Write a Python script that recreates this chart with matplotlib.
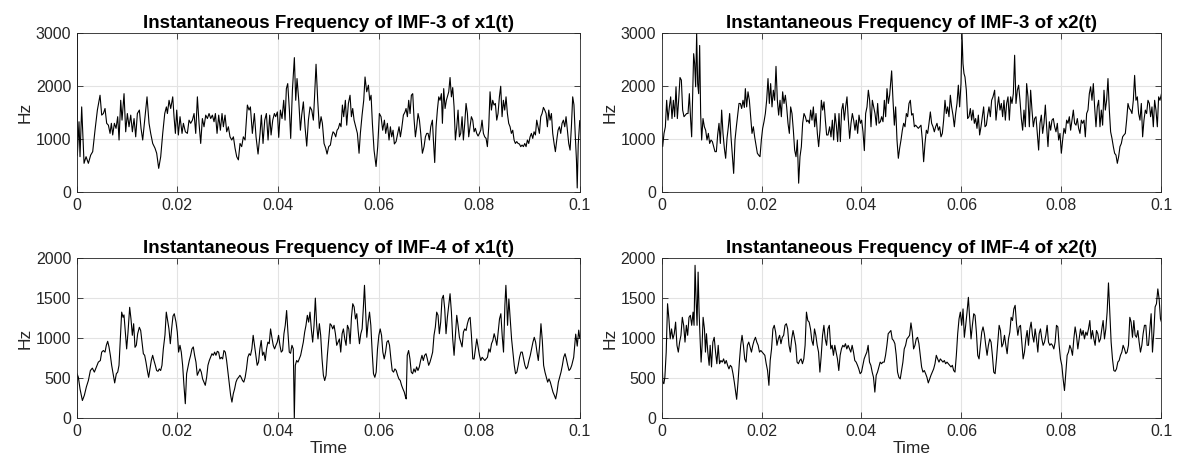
import numpy as np
import matplotlib
matplotlib.use("Agg")
import matplotlib.pyplot as plt

plt.rcParams['font.family'] = ['Liberation Sans', 'DejaVu Sans']

# IMF-3 of x1(t): time in ms, instantaneous frequency in Hz
imf3_x1_t = [0, 0.05, 0.13, 0.46, 0.66, 0.99, 1.46, 1.86, 2.32, 2.78, 3.18, 3.64, 4.11, 4.64, 4.97, 5.30, 5.63,
             5.96, 6.30, 6.63, 6.89, 7.16, 7.49, 7.82, 8.15, 8.42, 8.75, 9.01, 9.41, 9.74, 10.07, 10.40, 10.74,
             11.07, 11.40, 11.73, 12.06, 12.46, 12.79, 13.12, 13.52, 13.98, 14.38, 14.71, 15.11, 15.57, 15.90,
             16.30, 16.70, 17.10, 17.50, 17.83, 18.03, 18.36, 18.69, 19.09, 19.35, 19.62, 19.88, 20.21, 20.54,
             20.94, 21.21, 21.60, 22.00, 22.33, 22.66, 23.00, 23.33, 23.66, 23.99, 24.32, 24.65, 24.98, 25.31,
             25.65, 25.98, 26.31, 26.64, 26.97, 27.30, 27.57, 27.90, 28.23, 28.56, 28.89, 29.16, 29.49, 29.82,
             30.15, 30.48, 30.82, 31.15, 31.48, 31.81, 32.14, 32.47, 32.80, 33.13, 33.47, 33.93, 34.26, 34.53,
             34.92, 35.32, 35.65, 36.05, 36.45, 36.71, 37.04, 37.38, 37.71, 38.04, 38.37, 38.64, 38.97, 39.30,
             39.56, 39.89, 40.16, 40.49, 40.82, 41.15, 41.42, 41.68, 41.95, 42.28, 42.54, 42.88, 43.27, 43.54,
             43.80, 44.14, 44.47, 44.73, 45.06, 45.39, 45.73, 46.06, 46.39, 46.72, 47.05, 47.25, 47.58, 47.91,
             48.24, 48.58, 48.84, 49.17, 49.50, 49.77, 50.10, 50.43, 50.70, 50.96, 51.23, 51.49, 51.76, 52.02,
             52.29, 52.55, 52.82, 53.08, 53.41, 53.68, 54.01, 54.34, 54.61, 54.87, 55.14, 55.47, 55.80, 56.13,
             56.39, 56.73, 57.06, 57.32, 57.65, 57.99, 58.25, 58.52, 58.78, 59.11, 59.51, 59.84, 60.17, 60.50,
             60.83, 61.17, 61.43, 61.76, 62.09, 62.36, 62.62, 62.89, 63.15, 63.49, 63.82, 64.08, 64.35, 64.61,
             64.94, 65.27, 65.47, 65.74, 66.00, 66.27, 66.53, 66.80, 67.06, 67.33, 67.59, 67.86, 68.13, 68.39,
             68.72, 69.05, 69.32, 69.58, 69.85, 70.11, 70.38, 70.71, 70.91, 71.17, 71.44, 71.70, 71.97, 72.23,
             72.50, 72.70, 72.96, 73.23, 73.49, 73.69, 73.96, 74.22, 74.49, 74.75, 75.02, 75.28, 75.55, 75.81,
             76.08, 76.34, 76.61, 76.87, 77.14, 77.40, 77.67, 77.93, 78.20, 78.46, 78.73, 79.00, 79.26, 79.52,
             79.79, 80.05, 80.32, 80.58, 80.85, 81.11, 81.38, 81.64, 81.91, 82.17, 82.44, 82.70, 82.97, 83.23,
             83.50, 83.76, 84.03, 84.29, 84.56, 84.82, 85.09, 85.35, 85.62, 85.88, 86.15, 86.41, 86.68, 86.95,
             87.21, 87.48, 87.74, 88.01, 88.27, 88.54, 88.80, 89.07, 89.33, 89.60, 89.86, 90.13, 90.39, 90.66,
             90.92, 91.19, 91.45, 91.72, 91.98, 92.25, 92.51, 92.78, 93.04, 93.31, 93.57, 93.84, 94.10, 94.37,
             94.63, 94.90, 95.16, 95.43, 95.69, 95.96, 96.22, 96.49, 96.75, 97.02, 97.28, 97.55, 97.81, 98.08,
             98.35, 98.60, 98.85, 99.10, 99.35, 99.50, 99.70, 100.0]
imf3_x1_hz = [0, 3000, 700, 1330, 670, 1610, 545, 670, 545, 700, 765, 1170, 1550, 1830, 1455, 1485, 1580,
              1300, 1265, 1110, 1300, 1080, 1300, 1205, 1425, 985, 1735, 1360, 1860, 1140, 1485, 1235, 1455,
              1140, 1390, 1045, 1485, 1550, 1205, 985, 1360, 1800, 1300, 1110, 920, 830, 735,
              450, 670, 1110, 1485, 1610, 1485, 1735, 1580, 1800, 1425, 1110, 1550, 1080, 1425,
              1110, 1300, 1140, 1110, 1360, 1300, 1360, 1485, 1110, 1800, 1300, 920, 1390, 1235,
              1455, 1390, 1485, 1390, 1455, 1330, 1485, 1110, 1455, 1170, 1485, 1235, 1455, 1140,
              1235, 1045, 985, 1045, 830, 670, 610, 920, 860, 1045, 985, 1645, 1550, 1610,
              1110, 1485, 1045, 720, 1110, 1455, 920, 1360, 1485, 985, 1455, 1080, 1360, 1485,
              1425, 1515, 1035, 1550, 1390, 1735, 1360, 1955, 2050, 1550, 1015, 1925, 2540, 1735,
              2145, 1735, 1170, 1455, 1705, 1235, 870, 1360, 1610, 1550, 1360, 1735, 2415, 1735,
              1205, 1425, 1300, 920, 830, 720, 860, 890, 1045, 1140, 1110, 1045, 1170, 1205,
              1300, 1235, 1645, 1425, 1735, 1265, 1675, 1830, 1425, 1580, 1360, 1235, 1110, 735,
              1110, 1455, 1735, 2175, 1895, 2020, 1735, 1830, 1300, 795, 485, 860, 1485, 1425,
              1170, 1360, 1110, 1300, 985, 1235, 1045, 1170, 910, 955, 1110, 1235, 1045, 1205,
              1455, 1515, 1580, 1425, 1735, 1485, 1830, 1860, 1390, 1045, 1235, 1485, 1360, 1110,
              735, 860, 1045, 1110, 1110, 985, 1235, 1360, 985, 560, 1235, 1550, 1800, 1735,
              1860, 1300, 1955, 1580, 1735, 1800, 1895, 2165, 1800, 1975, 1610, 985, 1235, 1550,
              1045, 1110, 1425, 985, 1300, 1675, 1485, 1045, 1235, 1425, 1360, 1140, 1205, 1110,
              1060, 1110, 1170, 1360, 1110, 1045, 1015, 860, 1235, 1895, 1550, 1735, 1645, 1675,
              1360, 1485, 1800, 2000, 1425, 1735, 1550, 1800, 1485, 1300, 1235, 1110, 1170, 985,
              920, 955, 920, 910, 860, 890, 860, 920, 860, 985, 920, 1045, 1110, 1015,
              1140, 1080, 1360, 1235, 1110, 1425, 1485, 1600, 1550, 1485, 1235, 1550, 1360, 1485,
              1110, 920, 765, 985, 1170, 1235, 1110, 1300, 1360, 1235, 1425, 1170, 920, 795,
              1250, 1800, 1650, 1100, 600, 80, 900, 1350]

# IMF-3 of x2(t)
imf3_x2_t = [0.00, 0.23, 0.50, 0.77, 1.03, 1.30, 1.57, 1.83, 2.10, 2.37, 2.63, 2.90, 3.17, 3.43, 3.70, 3.97,
             4.23, 4.50, 4.77, 5.03, 5.30, 5.57, 5.83, 6.03, 6.23, 6.43, 6.63, 6.83, 7.03, 7.23, 7.43, 7.63,
             7.83, 8.03, 8.30, 8.57, 8.83, 9.10, 9.37, 9.63, 9.90, 10.17, 10.43, 10.70, 10.97, 11.23, 11.50,
             11.77, 12.03, 12.30, 12.57, 12.83, 13.10, 13.37, 13.63, 13.90, 14.17, 14.43, 14.70, 14.97, 15.23,
             15.50, 15.77, 16.03, 16.30, 16.57, 16.77, 17.03, 17.30, 17.57, 17.83, 18.10, 18.37, 18.63, 18.90,
             19.17, 19.43, 19.70, 19.97, 20.23, 20.50, 20.77, 21.03, 21.30, 21.57, 21.83, 22.10, 22.37, 22.63,
             22.90, 23.17, 23.43, 23.70, 23.97, 24.23, 24.50, 24.77, 25.03, 25.30, 25.57, 25.83, 26.10, 26.37,
             26.63, 26.90, 27.17, 27.43, 27.70, 27.97, 28.23, 28.50, 28.77, 29.03, 29.30, 29.57, 29.83, 30.10,
             30.37, 30.63, 30.90, 31.17, 31.43, 31.70, 31.97, 32.23, 32.50, 32.77, 33.03, 33.30, 33.63, 33.90,
             34.17, 34.43, 34.70, 34.97, 35.23, 35.50, 35.77, 36.03, 36.30, 36.57, 36.83, 37.10, 37.37, 37.63,
             37.90, 38.17, 38.43, 38.70, 38.97, 39.23, 39.50, 39.77, 40.03, 40.30, 40.57, 40.83, 41.10, 41.37,
             41.63, 41.90, 42.17, 42.43, 42.70, 42.97, 43.23, 43.50, 43.77, 44.03, 44.30, 44.57, 44.83, 45.10,
             45.37, 45.63, 45.83, 46.03, 46.30, 46.57, 46.83, 47.10, 47.37, 47.63, 47.90, 48.17, 48.43, 48.70,
             48.97, 49.23, 49.50, 49.77, 50.03, 50.30, 50.57, 50.83, 51.10, 51.37, 51.63, 51.90, 52.17, 52.43,
             52.70, 52.97, 53.23, 53.50, 53.77, 54.03, 54.30, 54.57, 54.83, 55.10, 55.37, 55.63, 55.90, 56.17,
             56.43, 56.70, 56.97, 57.23, 57.50, 57.77, 58.03, 58.30, 58.57, 58.83, 59.10, 59.37, 59.63, 59.90,
             60.10, 60.30, 60.50, 60.70, 60.97, 61.23, 61.50, 61.77, 62.03, 62.30, 62.57, 62.83, 63.10, 63.37,
             63.63, 63.90, 64.17, 64.43, 64.70, 64.97, 65.23, 65.50, 65.77, 66.03, 66.30, 66.63, 66.90, 67.17,
             67.43, 67.70, 67.97, 68.23, 68.50, 68.77, 69.03, 69.30, 69.57, 69.83, 70.10, 70.37, 70.63, 70.90,
             71.17, 71.43, 71.70, 71.97, 72.23, 72.50, 72.77, 73.03, 73.30, 73.57, 73.83, 74.10, 74.37, 74.63,
             74.90, 75.17, 75.43, 75.70, 75.97, 76.23, 76.50, 76.77, 77.03, 77.30, 77.57, 77.83, 78.10, 78.37,
             78.63, 78.90, 79.17, 79.43, 79.70, 79.97, 80.23, 80.50, 80.77, 81.03, 81.30, 81.57, 81.83, 82.10,
             82.37, 82.63, 82.90, 83.17, 83.43, 83.70, 83.97, 84.23, 84.50, 84.77, 85.03, 85.30, 85.57, 85.83,
             86.10, 86.37, 86.63, 86.90, 87.17, 87.43, 87.70, 87.97, 88.23, 88.50, 88.77, 89.03, 89.30, 89.57,
             89.83, 90.10, 90.37, 90.63, 90.90, 91.17, 91.43, 91.70, 91.97, 92.23, 92.50, 92.77, 93.03, 93.30,
             93.57, 93.83, 94.10, 94.37, 94.63, 94.90, 95.17, 95.43, 95.70, 95.97, 96.23, 96.50, 96.77, 97.03,
             97.30, 97.57, 97.83, 98.10, 98.37, 98.63, 98.90, 99.17, 99.43, 99.70, 100.0]
imf3_x2_hz = [1045, 860, 1110, 1235, 1735, 1360, 1610, 1800, 1390, 1735, 1425, 1990, 1390, 1735, 2165, 2115,
              1550, 1425, 1455, 1485, 1485, 1860, 1360, 1045, 1860, 2615, 2425, 1990, 3000, 2050, 1860, 2770,
              1485, 985, 1390, 1235, 1170, 985, 1110, 920, 985, 955, 860, 765, 765, 1080, 1300,
              920, 1550, 1110, 830, 640, 1015, 1235, 1485, 1045, 700, 355, 985, 1235, 1455,
              1675, 1675, 1580, 1735, 1600, 1955, 1610, 1895, 1735, 1425, 1110, 1235, 1045, 890,
              735, 700, 670, 985, 1205, 1330, 1485, 1735, 2145, 1675, 2050, 1610, 1925, 1735,
              2375, 1735, 1455, 1735, 1425, 1895, 1675, 1830, 1610, 1300, 1110, 1610, 1485, 1170,
              795, 670, 985, 170, 670, 860, 1300, 1485, 1425, 1330, 1360, 1300, 1550, 1360,
              1610, 1235, 1485, 1110, 860, 1170, 1735, 1550, 1705, 1360, 1080, 1080, 1235, 1045,
              1360, 985, 1485, 1265, 955, 1485, 955, 1550, 1675, 1360, 1610, 1800, 1360, 1015,
              1300, 1485, 1360, 1170, 1360, 1110, 1455, 1300, 1360, 1140, 785, 1485, 1610, 1925,
              1735, 1235, 1735, 1610, 1485, 1265, 1675, 1300, 1330, 1425, 1330, 1735, 1425, 1955,
              1675, 1830, 2050, 2290, 1735, 1265, 1610, 985, 640, 830, 985, 1170, 1300, 1235,
              1485, 1425, 1675, 1735, 1455, 1485, 1235, 1265, 1235, 1205, 1235, 1265, 985, 575,
              920, 1170, 1110, 1300, 1515, 1300, 1235, 1140, 1235, 1300, 1170, 1235, 1045, 1110,
              1360, 1735, 1485, 1610, 1425, 1830, 1610, 1455, 1235, 1485, 1675, 2020, 1610, 2050,
              3000, 2425, 2240, 2175, 1925, 1390, 1425, 1580, 1360, 1550, 1300, 1390, 1205, 1455,
              1080, 1235, 1425, 1610, 1235, 1265, 1455, 1610, 1425, 1735, 1800, 1925, 1360, 1610,
              1800, 1550, 1675, 1425, 1735, 1360, 1675, 1800, 1360, 1800, 1675, 1860, 2585, 1675,
              1925, 2020, 1735, 1390, 1170, 1550, 1235, 2050, 1800, 1235, 1925, 1550, 1235, 1390,
              1425, 1110, 795, 1300, 1455, 1110, 1300, 1645, 1235, 860, 1330, 1170, 1360, 1390,
              1235, 1140, 1300, 985, 1110, 735, 985, 1205, 1110, 1360, 1300, 1425, 1170, 1360,
              1550, 1300, 1265, 1390, 1205, 1110, 1360, 1300, 1360, 1045, 1485, 1550, 1860, 1990,
              1735, 2050, 1610, 1235, 1610, 1735, 1235, 1550, 1265, 1925, 1550, 1735, 2145, 1550,
              1140, 1015, 860, 735, 700, 545, 670, 860, 920, 1045, 1080, 1110, 1360, 1675,
              1580, 1550, 1485, 1735, 2205, 1735, 1800, 1485, 1360, 1675, 1045, 1360, 1550, 1485,
              1735, 1675, 1425, 1610, 1235, 1735, 1550, 1235, 1800, 1735, 1860]

# IMF-4 of x1(t)
imf4_x1_t = [0, 0.04, 0.07, 0.33, 0.66, 1.13, 1.52, 1.92, 2.32, 2.72, 3.11, 3.51, 3.91, 4.30, 4.70, 4.97, 5.30,
             5.63, 5.89, 6.16, 6.42, 6.69, 6.95, 7.28, 7.55, 7.88, 8.15, 8.41, 8.68, 8.94, 9.21, 9.40, 9.67,
             9.93, 10.20, 10.53, 10.79, 11.06, 11.32, 11.59, 11.85, 12.12, 12.45, 12.72, 12.98, 13.25, 13.51,
             13.77, 14.04, 14.30, 14.57, 14.83, 15.10, 15.36, 15.63, 15.89, 16.16, 16.42, 16.69, 16.95, 17.22,
             17.55, 17.81, 18.08, 18.34, 18.61, 18.87, 19.14, 19.40, 19.74, 20.00, 20.26, 20.53, 20.79, 21.06,
             21.32, 21.59, 21.85, 22.12, 22.38, 22.65, 22.91, 23.18, 23.44, 23.71, 23.97, 24.24, 24.50, 24.77,
             25.03, 25.30, 25.56, 25.83, 26.09, 26.36, 26.62, 26.89, 27.15, 27.42, 27.68, 27.95, 28.21, 28.48,
             28.74, 29.01, 29.27, 29.54, 29.80, 30.07, 30.33, 30.60, 30.86, 31.13, 31.39, 31.66, 31.92, 32.19,
             32.45, 32.69, 32.96, 33.22, 33.49, 33.75, 34.02, 34.29, 34.55, 34.82, 35.08, 35.35, 35.61, 35.88,
             36.15, 36.41, 36.68, 36.94, 37.21, 37.48, 37.74, 38.01, 38.27, 38.54, 38.80, 39.07, 39.34, 39.60,
             39.87, 40.13, 40.40, 40.66, 40.93, 41.20, 41.46, 41.73, 41.99, 42.26, 42.52, 42.79, 43.06, 43.26,
             43.46, 43.72, 43.99, 44.25, 44.52, 44.78, 45.05, 45.32, 45.58, 45.85, 46.11, 46.38, 46.64, 46.91,
             47.18, 47.44, 47.71, 47.97, 48.24, 48.50, 48.77, 49.04, 49.30, 49.57, 49.83, 50.10, 50.37, 50.63,
             50.90, 51.16, 51.43, 51.69, 51.96, 52.23, 52.49, 52.76, 53.02, 53.29, 53.55, 53.82, 54.09, 54.35,
             54.62, 54.88, 55.15, 55.42, 55.68, 55.95, 56.21, 56.48, 56.74, 57.01, 57.21, 57.41, 57.67, 57.94,
             58.21, 58.47, 58.74, 59.00, 59.27, 59.53, 59.80, 60.07, 60.33, 60.60, 60.86, 61.13, 61.40, 61.66,
             61.93, 62.19, 62.46, 62.72, 62.99, 63.26, 63.52, 63.79, 64.05, 64.32, 64.58, 64.85, 65.12, 65.38,
             65.50, 65.71, 65.98, 66.25, 66.51, 66.78, 67.04, 67.31, 67.57, 67.84, 68.11, 68.37, 68.64, 68.90,
             69.17, 69.44, 69.70, 69.97, 70.23, 70.50, 70.76, 71.03, 71.30, 71.56, 71.83, 72.09, 72.36, 72.62,
             72.89, 73.16, 73.42, 73.69, 73.95, 74.22, 74.49, 74.75, 75.02, 75.28, 75.55, 75.81, 76.08, 76.35,
             76.61, 76.88, 77.14, 77.41, 77.67, 77.94, 78.21, 78.47, 78.74, 79.00, 79.27, 79.53, 79.80, 80.07,
             80.33, 80.60, 80.86, 81.13, 81.40, 81.66, 81.93, 82.19, 82.46, 82.72, 82.99, 83.26, 83.52, 83.79,
             84.05, 84.32, 84.58, 84.85, 85.12, 85.32, 85.51, 85.65, 85.91, 86.18, 86.45, 86.71, 86.98, 87.24,
             87.51, 87.77, 88.04, 88.31, 88.57, 88.84, 89.10, 89.37, 89.63, 89.90, 90.17, 90.43, 90.70, 90.96,
             91.23, 91.50, 91.76, 92.03, 92.29, 92.56, 92.82, 93.09, 93.36, 93.62, 93.89, 94.15, 94.42, 94.68,
             94.95, 95.22, 95.48, 95.75, 96.01, 96.28, 96.55, 96.81, 97.08, 97.34, 97.61, 97.87, 98.14, 98.41,
             98.80, 99.20, 99.50, 99.80, 100.0]
imf4_x1_hz = [0, 0, 555, 510, 365, 220, 285, 390, 470, 595, 625, 575, 640, 700, 720, 825, 845,
              825, 910, 960, 890, 785, 660, 535, 440, 555, 575, 660, 1010, 1325, 1260, 1290, 1075,
              865, 1075, 1385, 1240, 1035, 1180, 885, 910, 1055, 1135, 1095, 950, 805, 785,
              700, 595, 510, 615, 720, 785, 720, 660, 595, 585, 615, 595, 660, 865,
              1040, 1325, 1220, 1115, 930, 1115, 1275, 1305, 1200, 1075, 825, 910, 825, 660,
              410, 180, 555, 640, 720, 785, 865, 890, 785, 700, 535, 575, 615, 575,
              490, 450, 410, 510, 660, 720, 760, 805, 785, 825, 785, 835, 825, 740,
              760, 740, 845, 825, 720, 575, 430, 285, 200, 305, 365, 450, 490, 510,
              535, 510, 470, 450, 510, 615, 760, 805, 785, 865, 1035, 910, 785, 660,
              700, 865, 970, 785, 825, 720, 865, 950, 930, 1115, 1010, 910, 865, 910,
              950, 1035, 910, 825, 845, 1055, 1160, 1345, 1075, 825, 810, 910, 865, 0,
              660, 720, 700, 740, 785, 865, 950, 1075, 1160, 1285, 1200, 1325, 1115, 950,
              1160, 1500, 1160, 990, 1180, 1035, 740, 535, 470, 535, 785, 990, 1180, 1160,
              1115, 1160, 1055, 910, 950, 990, 825, 1055, 1115, 990, 910, 1160, 1115, 930,
              1260, 1430, 1390, 1240, 1305, 1095, 930, 1055, 1115, 1410, 1660, 1390, 1010, 1200,
              1325, 1160, 825, 555, 510, 575, 865, 1035, 1115, 1035, 825, 740, 825, 950,
              970, 910, 740, 595, 575, 615, 595, 535, 490, 470, 410, 365, 325, 260,
              240, 785, 845, 740, 575, 555, 615, 575, 640, 595, 640, 720, 785, 720,
              785, 805, 740, 660, 700, 760, 825, 1035, 1140, 1325, 1285, 1055, 1200, 1490,
              1535, 1365, 1055, 1260, 1410, 1555, 1325, 990, 785, 1035, 1285, 1160, 1010, 950,
              890, 1075, 1115, 1095, 1180, 1240, 1260, 1035, 740, 740, 865, 990, 890, 785,
              720, 760, 740, 720, 740, 760, 865, 825, 930, 970, 1055, 990, 910, 1075,
              1240, 1305, 1035, 825, 1410, 1660, 1410, 1160, 1490, 1240, 990, 825, 660, 555,
              575, 660, 760, 825, 825, 740, 660, 615, 640, 720, 785, 865, 950, 1010,
              950, 825, 720, 910, 1180, 970, 660, 575, 510, 450, 490, 450, 385, 325,
              285, 240, 325, 450, 510, 575, 660, 760, 805, 740, 660, 595, 615, 660,
              760, 1050, 900, 1100, 1000]

# IMF-4 of x2(t)
imf4_x2_t = [0.00, 0.27, 0.47, 0.67, 0.94, 1.21, 1.48, 1.74, 2.01, 2.28, 2.55, 2.82, 3.09, 3.36, 3.62, 3.89,
             4.16, 4.43, 4.70, 4.97, 5.23, 5.50, 5.77, 6.04, 6.31, 6.51, 6.71, 6.91, 7.11, 7.32, 7.52, 7.72,
             7.92, 8.12, 8.32, 8.59, 8.79, 8.99, 9.26, 9.53, 9.73, 10.00, 10.27, 10.54, 10.81, 11.07, 11.34,
             11.61, 11.88, 12.15, 12.42, 12.68, 12.95, 13.22, 13.49, 13.76, 14.03, 14.30, 14.56, 14.83, 15.03,
             15.30, 15.57, 15.84, 16.11, 16.38, 16.64, 16.91, 17.18, 17.45, 17.72, 17.99, 18.26, 18.52, 18.79,
             19.06, 19.33, 19.60, 19.87, 20.13, 20.40, 20.67, 20.94, 21.21, 21.48, 21.74, 22.01, 22.28, 22.55,
             22.82, 23.09, 23.36, 23.62, 23.89, 24.16, 24.43, 24.70, 24.97, 25.23, 25.50, 25.77, 26.04, 26.31,
             26.58, 26.85, 27.11, 27.38, 27.65, 27.92, 28.19, 28.46, 28.72, 28.99, 29.26, 29.53, 29.80, 30.07,
             30.34, 30.60, 30.87, 31.14, 31.41, 31.68, 31.95, 32.21, 32.48, 32.75, 33.02, 33.29, 33.56, 33.86,
             34.12, 34.39, 34.66, 34.92, 35.19, 35.46, 35.73, 35.99, 36.26, 36.53, 36.79, 37.06, 37.33, 37.60,
             37.86, 38.13, 38.40, 38.66, 38.93, 39.20, 39.46, 39.73, 40.00, 40.27, 40.53, 40.80, 41.07, 41.33,
             41.60, 41.87, 42.14, 42.40, 42.67, 42.94, 43.20, 43.47, 43.74, 44.01, 44.27, 44.54, 44.81, 45.08,
             45.34, 45.61, 45.88, 46.14, 46.41, 46.68, 46.95, 47.21, 47.48, 47.75, 48.02, 48.28, 48.55, 48.82,
             49.08, 49.35, 49.62, 49.89, 50.15, 50.42, 50.69, 50.95, 51.22, 51.49, 51.76, 52.02, 52.29, 52.56,
             52.83, 53.09, 53.36, 53.63, 53.89, 54.16, 54.43, 54.70, 54.96, 55.23, 55.50, 55.77, 56.03, 56.30,
             56.57, 56.83, 57.10, 57.37, 57.64, 57.90, 58.17, 58.44, 58.70, 58.97, 59.24, 59.51, 59.77, 60.04,
             60.31, 60.57, 60.84, 61.11, 61.38, 61.64, 61.91, 62.18, 62.45, 62.71, 62.98, 63.25, 63.51, 63.78,
             64.05, 64.31, 64.58, 64.85, 65.12, 65.38, 65.65, 65.92, 66.18, 66.45, 66.72, 67.00, 67.27, 67.53,
             67.80, 68.07, 68.33, 68.60, 68.87, 69.13, 69.40, 69.67, 69.93, 70.20, 70.47, 70.73, 71.00, 71.27,
             71.53, 71.80, 72.07, 72.33, 72.60, 72.87, 73.13, 73.40, 73.67, 73.93, 74.20, 74.47, 74.73, 75.00,
             75.27, 75.53, 75.80, 76.07, 76.33, 76.60, 76.87, 77.13, 77.40, 77.67, 77.93, 78.20, 78.47, 78.73,
             79.00, 79.27, 79.53, 79.80, 80.07, 80.33, 80.60, 80.87, 81.13, 81.40, 81.67, 81.93, 82.20, 82.47,
             82.73, 83.00, 83.27, 83.53, 83.80, 84.07, 84.33, 84.60, 84.87, 85.13, 85.40, 85.67, 85.93, 86.20,
             86.47, 86.73, 87.00, 87.27, 87.53, 87.80, 88.07, 88.33, 88.60, 88.87, 89.13, 89.40, 89.67, 89.93,
             90.20, 90.47, 90.73, 91.00, 91.27, 91.53, 91.80, 92.07, 92.33, 92.60, 92.87, 93.13, 93.40, 93.67,
             93.93, 94.20, 94.47, 94.73, 95.00, 95.27, 95.53, 95.80, 96.07, 96.33, 96.60, 96.87, 97.13, 97.40,
             97.67, 97.93, 98.20, 98.47, 98.73, 99.00, 99.27, 99.53, 99.80, 100.0]
imf4_x2_hz = [910, 450, 430, 510, 825, 1430, 1240, 990, 1115, 990, 1055, 1200, 910, 825, 950, 1035,
              1260, 1160, 950, 1160, 1035, 1260, 1285, 1160, 1325, 1160, 1910, 1490, 1160, 1825, 1325, 990,
              700, 910, 1260, 1115, 825, 1055, 825, 660, 910, 640, 950, 1010, 825, 680, 910,
              680, 720, 700, 740, 680, 720, 660, 615, 660, 640, 555, 450, 325, 235,
              450, 700, 910, 1035, 910, 740, 700, 910, 950, 890, 825, 910, 970, 1010,
              950, 910, 825, 845, 825, 805, 785, 680, 595, 410, 720, 865, 1115, 1160,
              1075, 910, 990, 1035, 930, 1010, 1035, 1160, 1180, 1115, 910, 825, 990, 1095,
              1010, 910, 700, 680, 720, 740, 680, 740, 910, 1325, 1220, 1200, 1115, 970,
              910, 1115, 1035, 910, 825, 575, 785, 1035, 1160, 990, 910, 1115, 1160, 865,
              910, 785, 910, 825, 740, 595, 785, 865, 910, 890, 930, 865, 910, 865,
              825, 910, 825, 720, 700, 660, 615, 555, 575, 660, 740, 785, 825, 910,
              700, 660, 575, 510, 325, 535, 575, 640, 700, 680, 700, 700, 785, 910,
              1055, 1075, 1095, 990, 970, 930, 785, 575, 510, 490, 595, 700, 865, 910,
              990, 1010, 1035, 1190, 1075, 865, 910, 990, 1010, 930, 785, 640, 575, 595,
              555, 510, 440, 490, 535, 575, 615, 680, 785, 740, 700, 740, 720, 700,
              720, 680, 700, 680, 660, 640, 660, 595, 575, 785, 1055, 1240, 1325, 1160,
              1365, 1010, 1160, 1325, 1510, 1240, 990, 1160, 1305, 1285, 1075, 785, 740, 910,
              1075, 1140, 1055, 910, 785, 910, 990, 950, 785, 575, 555, 740, 950, 1160,
              1095, 890, 930, 1035, 910, 805, 990, 1075, 1260, 1220, 1365, 1410, 1180, 1035,
              1140, 1160, 950, 740, 825, 990, 1095, 910, 1115, 1200, 1035, 950, 1115, 990,
              825, 1055, 1115, 990, 910, 950, 1035, 1160, 950, 910, 930, 910, 865, 950,
              1160, 1140, 910, 740, 660, 490, 345, 575, 785, 825, 910, 865, 785, 990,
              1140, 1035, 865, 990, 1115, 1035, 1095, 990, 1075, 1035, 1115, 1220, 990, 1095,
              990, 910, 1095, 1055, 950, 990, 1115, 1220, 990, 1115, 1325, 1690, 1325, 950,
              740, 595, 585, 615, 700, 720, 785, 825, 910, 865, 805, 825, 910, 1260,
              1200, 1010, 1220, 1035, 1010, 1095, 950, 825, 910, 1055, 1160, 1160, 910, 910,
              1115, 1305, 825, 1075, 1390, 1430, 1615, 1490, 1240, 1200]

panels = [
    ("Instantaneous Frequency of IMF-3 of x1(t)", imf3_x1_t, imf3_x1_hz, [0, 1000, 2000, 3000]),
    ("Instantaneous Frequency of IMF-3 of x2(t)", imf3_x2_t, imf3_x2_hz, [0, 1000, 2000, 3000]),
    ("Instantaneous Frequency of IMF-4 of x1(t)", imf4_x1_t, imf4_x1_hz, [0, 500, 1000, 1500, 2000]),
    ("Instantaneous Frequency of IMF-4 of x2(t)", imf4_x2_t, imf4_x2_hz, [0, 500, 1000, 1500, 2000]),
]

xticks = [0, 0.02, 0.04, 0.06, 0.08, 0.1]
xticklabels = ["0", "0.02", "0.04", "0.06", "0.08", "0.1"]

# axes boxes in figure fractions: left, bottom, width, height
boxes = [
    [0.065, 0.584, 0.4263, 0.344],
    [0.5606, 0.584, 0.4237, 0.344],
    [0.065, 0.095, 0.4263, 0.3463],
    [0.5606, 0.095, 0.4237, 0.3463],
]

fig = plt.figure(figsize=(11.8, 4.62), dpi=100)
edge = "#262626"

for i, (title, t_ms, hz, yticks) in enumerate(panels):
    ax = fig.add_axes(boxes[i])
    ax.plot(np.array(t_ms) / 1000.0, hz, color="black", linewidth=0.8)
    ax.set_xlim(0, 0.1)
    ax.set_ylim(yticks[0], yticks[-1])
    ax.set_xticks(xticks)
    ax.set_xticklabels(xticklabels)
    ax.set_yticks(yticks)
    ax.grid(True, color="#e3e3e3", linewidth=0.8)
    ax.set_axisbelow(True)
    ax.tick_params(direction="in", length=4, width=0.6, colors=edge, labelcolor="#262626",
                   labelsize=11.5, top=True, right=True, pad=4)
    for s in ax.spines.values():
        s.set_color(edge)
        s.set_linewidth(0.6)
    ax.set_title(title, fontsize=13.5, fontweight="bold", pad=4)
    ax.set_ylabel("Hz", fontsize=12.5, color="#262626", labelpad=2)
    if i >= 2:
        ax.set_xlabel("Time", fontsize=12.5, color="#262626", labelpad=2)

fig.savefig("out.png", dpi=100)
